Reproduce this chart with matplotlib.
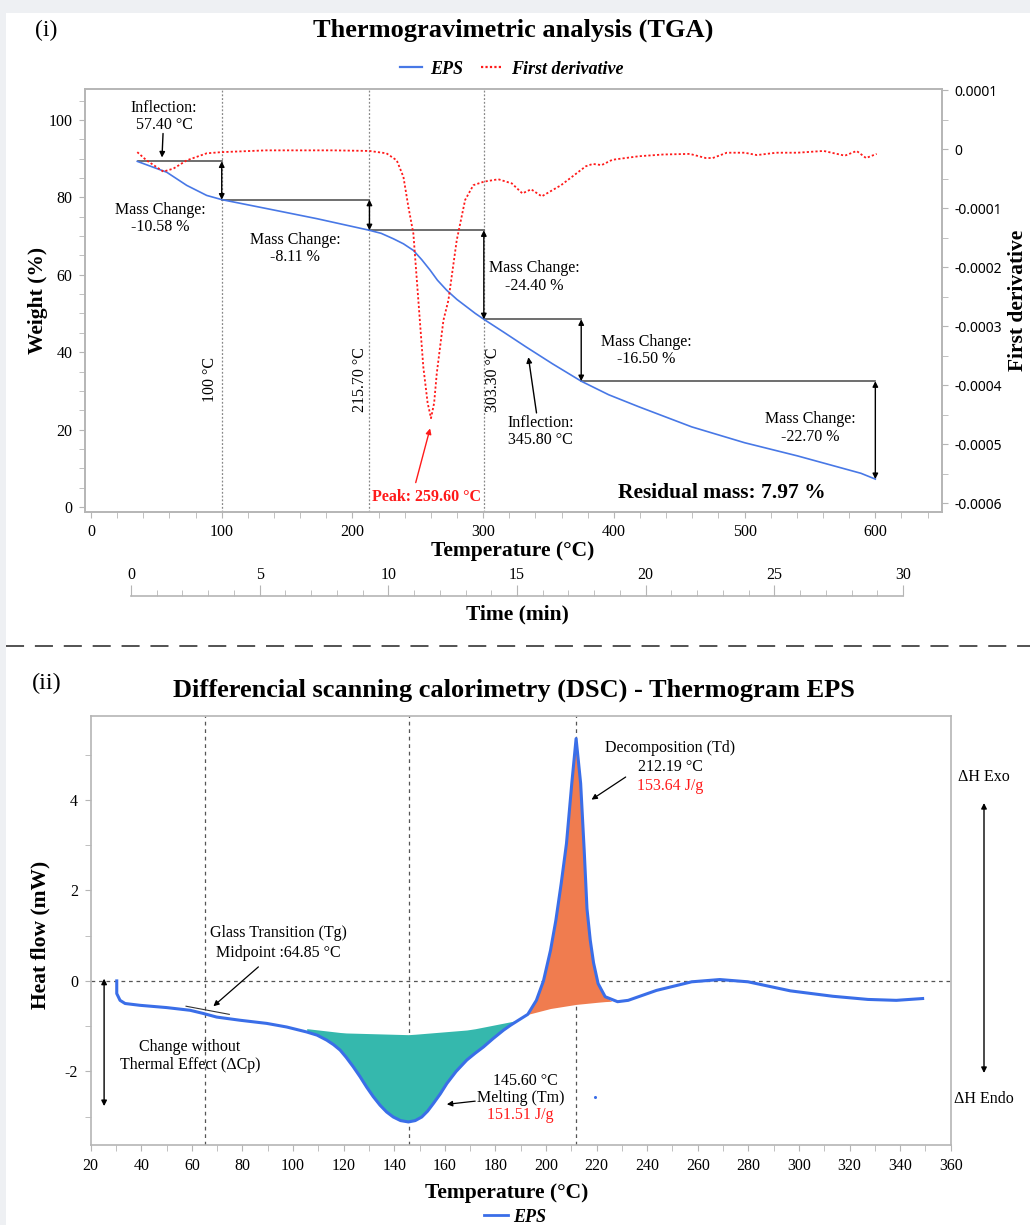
import matplotlib
matplotlib.use('Agg')
import matplotlib.pyplot as plt
import matplotlib.ticker as ticker
from matplotlib.lines import Line2D
from matplotlib.patches import Rectangle
import numpy as np

plt.rcParams['font.family'] = ['Liberation Serif', 'DejaVu Serif']
plt.rcParams['axes.unicode_minus'] = False

# ---------------- TGA data ----------------
tga_temp = [35.4, 45.1, 57.9, 73.2, 88.5, 100.2, 134.4, 172.7, 212.9, 222.0, 231.3, 239.0,
            246.6, 253.0, 259.4, 265.0, 272.1, 280.0, 287.4, 294.0, 300.5, 316.0, 332.6,
            353.0, 375.0, 396.0, 419.0, 459.5, 500.0, 540.4, 589.0, 600.0]
tga_weight = [89.3, 88.1, 86.5, 83.1, 80.5, 79.4, 77.1, 74.5, 71.5, 70.7, 69.3, 68.0,
              66.3, 63.9, 61.2, 58.6, 56.0, 53.6, 51.7, 50.0, 48.5, 45.1, 41.4,
              37.0, 32.5, 29.0, 25.9, 20.7, 16.6, 13.2, 8.7, 7.2]

deriv_temp = [35.4, 42.5, 55.3, 63.0, 73.2, 88.5, 100.0, 134.0, 185.0, 213.0, 226.0,
              233.9, 239.0, 242.8, 246.6, 250.4, 254.2, 257.5, 260.1, 262.5, 264.5, 269.6,
              273.4, 279.8, 286.2, 292.5, 300.7, 311.6, 321.9, 330.0, 336.7, 344.8, 359.6,
              378.5, 383.9, 390.6, 398.8, 419.0, 437.9, 458.1, 470.2, 475.6, 486.4, 500.0,
              509.4, 524.2, 540.3, 560.5, 576.7, 585.7, 592.9, 601.0]
deriv_val = [-0.05, -0.19, -0.38, -0.33, -0.19, -0.07, -0.05, -0.02, -0.02, -0.03, -0.07,
             -0.19, -0.47, -0.98, -1.43, -2.56, -3.69, -4.30, -4.56, -4.30, -3.80, -2.90,
             -2.56, -1.54, -0.86, -0.61, -0.55, -0.51, -0.58, -0.75, -0.68, -0.80, -0.61,
             -0.29, -0.25, -0.27, -0.18, -0.12, -0.09, -0.08, -0.15, -0.15, -0.06, -0.06,
             -0.10, -0.06, -0.06, -0.03, -0.11, -0.03, -0.15, -0.08]  # x 1e-4

step_temps = [36, 100, 213, 300.5, 375, 600]
step_weights = [89.3, 79.4, 71.5, 48.5, 32.5, 7.2]
mass_changes = ['-10.58 %', '-8.11 %', '-24.40 %', '-16.50 %', '-22.70 %']
mass_label_pos = [(52.8, 74.6), (156, 66.8), (339, 59.4), (424.6, 40.5), (550.1, 20.4)]
vline_temps = [100, 213, 300.5]
vline_labels = ['100 °C', '215.70 °C', '303.30 °C']
vline_label_x = [91, 205.8, 307.6]

# ---------------- DSC data ----------------
dsc_temp = [30.3, 30.3, 31.6, 33.6, 39.5, 50.0, 59.3, 64.5, 69.8, 79.0, 89.6, 97.5,
            105.4, 109.5, 113.3, 116.0, 118.6, 121.0, 123.8, 126.5, 129.1, 131.7, 134.4,
            137.0, 139.6, 142.5, 145.6, 148.3, 150.9, 153.2, 155.5, 158.2, 160.8, 164.5,
            168.7, 172.0, 175.3, 179.0, 183.2, 186.0, 189.1, 192.8, 196.2, 199.0, 201.8,
            203.9, 206.0, 208.1, 210.2, 211.9, 213.7, 215.1, 216.2, 217.5, 218.8, 220.6,
            223.4, 228.3, 232.5, 243.7, 257.6, 268.7, 279.9, 296.6, 313.4, 327.3, 338.5,
            348.9]
dsc_flow = [0.0, -0.28, -0.43, -0.50, -0.54, -0.59, -0.65, -0.72, -0.80, -0.87, -0.94, -1.02,
            -1.13, -1.20, -1.31, -1.41, -1.53, -1.69, -1.90, -2.12, -2.35, -2.56, -2.75,
            -2.90, -3.01, -3.09, -3.12, -3.09, -3.01, -2.88, -2.71, -2.50, -2.27, -2.00,
            -1.75, -1.60, -1.46, -1.28, -1.09, -0.98, -0.87, -0.74, -0.43, 0.0, 0.68,
            1.34, 2.15, 3.04, 4.37, 5.36, 4.37, 2.89, 1.60, 0.90, 0.40, -0.06,
            -0.35, -0.46, -0.43, -0.21, -0.02, 0.03, -0.02, -0.22, -0.34, -0.41, -0.43,
            -0.39]

melt_base_temp = [103, 120, 146, 170, 189.1]
melt_base_flow = [-1.04, -1.15, -1.19, -1.08, -0.87]
dec_base_temp = [192.8, 201.8, 211.9, 222.6, 226]
dec_base_flow = [-0.74, -0.61, -0.52, -0.46, -0.45]
dsc_vlines = [65, 146, 212]

W, H = 1030, 1225
def fx(px):
    return px / W
def fy(py):
    return 1 - py / H

blue = '#4878e6'
spine_col = '#b5b5b5'

fig = plt.figure(figsize=(W / 100, H / 100), dpi=100, facecolor='#eef0f3')
fig.patches.append(Rectangle((fx(6), 0), 1, fy(13), transform=fig.transFigure,
                             facecolor='white', edgecolor='none', zorder=-10))

def style_box(ax):
    for s in ax.spines.values():
        s.set_color(spine_col)
        s.set_linewidth(1.2)

# ================= TGA =================
ax = fig.add_axes([fx(85), fy(512), fx(942) - fx(85), fy(89) - fy(512)])
style_box(ax)
ax.plot(tga_temp, tga_weight, color=blue, lw=1.2, zorder=4)
ax.set_xlim(-4.6, 651)
ax.set_ylim(-1.3, 108)
ax.xaxis.set_major_locator(ticker.MultipleLocator(100))
ax.xaxis.set_minor_locator(ticker.MultipleLocator(20))
ax.yaxis.set_major_locator(ticker.MultipleLocator(20))
ax.yaxis.set_minor_locator(ticker.MultipleLocator(5))
ax.tick_params(which='both', direction='out', length=4, color=spine_col, labelsize=11.5, pad=5)

for t in vline_temps:
    ax.axvline(t, color='#888888', lw=0.9, ls=(0, (1.5, 1.5)), zorder=1)
for xl, lab in zip(vline_label_x, vline_labels):
    ax.text(xl, 33, lab, rotation=90, ha='center', va='center', fontsize=11.5)

for i in range(len(step_temps) - 1):
    ax.plot([step_temps[i], step_temps[i + 1]], [step_weights[i], step_weights[i]],
            color='#555555', lw=1.2, zorder=3)
    ax.annotate('', xy=(step_temps[i + 1], step_weights[i + 1]),
                xytext=(step_temps[i + 1], step_weights[i]),
                arrowprops=dict(arrowstyle='<|-|>', color='black', lw=1,
                                mutation_scale=8, shrinkA=0, shrinkB=0), zorder=5)
for (tx, ty), lab in zip(mass_label_pos, mass_changes):
    ax.text(tx, ty, 'Mass Change:\n' + lab, ha='center', va='center', fontsize=11.5,
            linespacing=1.1)

ax.text(55.9, 100.9, 'Inflection:\n57.40 °C', ha='center', va='center', fontsize=11.5,
        linespacing=1.1)
ax.annotate('', xy=(54.3, 90.3), xytext=(55.1, 96.5),
            arrowprops=dict(arrowstyle='-|>', color='black', lw=1, mutation_scale=8,
                            shrinkA=0, shrinkB=0))
ax.text(344, 19.6, 'Inflection:\n345.80 °C', ha='center', va='center', fontsize=11.5,
        linespacing=1.1)
ax.annotate('', xy=(334.6, 38.7), xytext=(340.8, 24.3),
            arrowprops=dict(arrowstyle='-|>', color='black', lw=1, mutation_scale=8,
                            shrinkA=0, shrinkB=0))
ax.text(256.8, 2.7, 'Peak: 259.60 °C', ha='center', va='center', fontsize=11.5,
        color='#ff1a1a', fontweight='bold')
ax.annotate('', xy=(259.4, 20.3), xytext=(248.4, 6.3),
            arrowprops=dict(arrowstyle='-|>', color='#ff1a1a', lw=1, mutation_scale=8,
                            shrinkA=0, shrinkB=0))
ax.text(482.4, 3.6, 'Residual mass: 7.97 %', ha='center', va='center', fontsize=15.5,
        fontweight='bold')

ax2 = ax.twinx()
style_box(ax2)
ax2.plot(deriv_temp, np.array(deriv_val) * 1e-4, color='#ff1a1a', lw=1.3, ls=(0, (1.2, 1.2)),
         zorder=2)
ax2.set_ylim(-0.000615, 0.000102)
ax2.yaxis.set_major_locator(ticker.MultipleLocator(0.0001))
ax2.yaxis.set_minor_locator(ticker.MultipleLocator(0.00005))
ax2.yaxis.set_major_formatter(ticker.FuncFormatter(
    lambda v, p: '0' if abs(v) < 1e-9 else ('%.4f' % v)))
ax2.tick_params(which='both', direction='out', length=4, color=spine_col, labelsize=10, pad=5)
for lab in ax2.get_yticklabels():
    lab.set_fontfamily('Noto Sans')

handles = [Line2D([], [], color=blue, lw=1.6),
           Line2D([], [], color='#ff1a1a', lw=1.6, ls=(0, (1, 1)))]
fig.legend(handles, ['EPS', 'First derivative'], loc='center', ncol=2, frameon=False,
           bbox_to_anchor=(fx(512), fy(69)), handlelength=1.2, handletextpad=0.45,
           columnspacing=1.0, prop=dict(size=13, style='italic', weight='bold'))

fig.text(fx(513), fy(30), 'Thermogravimetric analysis (TGA)', ha='center', va='center',
         fontsize=19, fontweight='bold')
fig.text(fx(46), fy(30), '(i)', ha='center', va='center', fontsize=17)
fig.text(fx(513), fy(551), 'Temperature (°C)', ha='center', va='center', fontsize=15.5,
         fontweight='bold')
fig.text(fx(38), fy(300), 'Weight (%)', ha='center', va='center', rotation=90,
         fontsize=15.5, fontweight='bold')
fig.text(fx(1018), fy(300), 'First derivative', ha='center', va='center', rotation=90,
         fontsize=15.5, fontweight='bold')

# time axis
tax = fig.add_axes([fx(131), fy(596), fx(903) - fx(131), 0.0001])
tax.set_xlim(0, 30)
tax.set_yticks([])
for s in ['bottom', 'left', 'right']:
    tax.spines[s].set_visible(False)
tax.spines['top'].set_color(spine_col)
tax.spines['top'].set_linewidth(1.2)
tax.xaxis.tick_top()
tax.xaxis.set_major_locator(ticker.MultipleLocator(5))
tax.xaxis.set_minor_locator(ticker.MultipleLocator(1))
tax.tick_params(which='major', direction='out', length=8, color=spine_col, labelsize=11.5, pad=1.5)
tax.tick_params(which='minor', direction='out', length=4, color=spine_col)
fig.text(fx(517), fy(614), 'Time (min)', ha='center', va='center', fontsize=15.5,
         fontweight='bold')

fig.add_artist(Line2D([fx(6), 1], [fy(646), fy(646)], transform=fig.transFigure,
                      color='#444444', lw=1.3, ls=(0, (10, 6))))

# ================= DSC =================
bx = fig.add_axes([fx(90.7), fy(1145), fx(950.7) - fx(90.7), fy(716) - fy(1145)])
style_box(bx)
bx.set_xlim(20, 360)
bx.set_ylim(-3.63, 5.86)
bx.xaxis.set_major_locator(ticker.MultipleLocator(20))
bx.xaxis.set_minor_locator(ticker.MultipleLocator(10))
bx.yaxis.set_major_locator(ticker.MultipleLocator(2))
bx.yaxis.set_minor_locator(ticker.MultipleLocator(1))
bx.tick_params(which='both', direction='out', length=4, color=spine_col, labelsize=11.5, pad=5)

bx.axhline(0, color='#555555', lw=0.9, ls=(0, (3, 3)), zorder=1)
for t in dsc_vlines:
    bx.axvline(t, color='#555555', lw=0.9, ls=(0, (3, 3)), zorder=1)

dt = np.array(dsc_temp)
df = np.array(dsc_flow)
m = (dt >= melt_base_temp[0]) & (dt <= melt_base_temp[-1])
bx.fill_between(dt[m], df[m], np.interp(dt[m], melt_base_temp, melt_base_flow),
                color='#35b8ad', lw=0, zorder=2)
m = (dt >= dec_base_temp[0]) & (dt <= dec_base_temp[-1])
xs = np.concatenate([dt[m], [dec_base_temp[-1]]])
ys = np.concatenate([df[m], [dec_base_flow[-1]]])
bx.fill_between(xs, ys, np.interp(xs, dec_base_temp, dec_base_flow),
                color='#f07c4f', lw=0, zorder=2)
bx.plot(dsc_temp, dsc_flow, color='#3a6ee8', lw=2.2, zorder=4)
bx.plot([219.5], [-2.57], 'o', color='#3a6ee8', ms=1.2)

bx.plot([57.7, 74.8], [-0.56, -0.74], color='#333333', lw=0.8, zorder=5)
bx.annotate('', xy=(68.5, -0.56), xytext=(86.3, 0.31),
            arrowprops=dict(arrowstyle='-|>', color='black', lw=0.9, mutation_scale=8,
                            shrinkA=0, shrinkB=0))
bx.text(94.2, 0.84, 'Glass Transition (Tg)\nMidpoint :64.85 °C', ha='center', va='center',
        fontsize=11.5, linespacing=1.3)
bx.annotate('', xy=(25.3, 0.05), xytext=(25.3, -2.77),
            arrowprops=dict(arrowstyle='<|-|>', color='black', lw=1, mutation_scale=8,
                            shrinkA=0, shrinkB=0))
bx.text(59.3, -1.67, 'Change without\nThermal Effect (ΔCp)', ha='center', va='center',
        fontsize=11.5, linespacing=1.15)

bx.text(192.0, -2.22, '145.60 °C', ha='center', va='center', fontsize=11.5)
bx.text(190.0, -2.60, 'Melting (Tm)', ha='center', va='center', fontsize=11.5)
bx.text(190.0, -2.97, '151.51 J/g', ha='center', va='center', fontsize=11.5, color='#ff1a1a')
bx.annotate('', xy=(160.8, -2.73), xytext=(172, -2.66),
            arrowprops=dict(arrowstyle='-|>', color='black', lw=0.9, mutation_scale=8,
                            shrinkA=0, shrinkB=0))

bx.text(249.1, 5.15, 'Decomposition (Td)', ha='center', va='center', fontsize=11.5)
bx.text(249.1, 4.73, '212.19 °C', ha='center', va='center', fontsize=11.5)
bx.text(249.1, 4.31, '153.64 J/g', ha='center', va='center', fontsize=11.5, color='#ff1a1a')
bx.annotate('', xy=(218, 4.01), xytext=(231.5, 4.51),
            arrowprops=dict(arrowstyle='-|>', color='black', lw=0.9, mutation_scale=8,
                            shrinkA=0, shrinkB=0))

fig.text(fx(984), fy(777), 'ΔH Exo', ha='center', va='center', fontsize=11.5)
fig.text(fx(984), fy(1099), 'ΔH Endo', ha='center', va='center', fontsize=11.5)
bx.annotate('', xy=(fx(984), fy(803)), xytext=(fx(984), fy(1073)),
            xycoords='figure fraction', textcoords='figure fraction',
            arrowprops=dict(arrowstyle='<|-|>', color='black', lw=1, mutation_scale=8,
                            shrinkA=0, shrinkB=0), annotation_clip=False)

fig.text(fx(514), fy(690), 'Differencial scanning calorimetry (DSC) - Thermogram EPS',
         ha='center', va='center', fontsize=19, fontweight='bold')
fig.text(fx(47), fy(683), '(ii)', ha='center', va='center', fontsize=17.5)
fig.text(fx(507), fy(1193), 'Temperature (°C)', ha='center', va='center', fontsize=15.5,
         fontweight='bold')
fig.text(fx(40), fy(935), 'Heat flow (mW)', ha='center', va='center', rotation=90,
         fontsize=15.5, fontweight='bold')
fig.legend([Line2D([], [], color='#3a6ee8', lw=2)], ['EPS'], loc='center', frameon=False,
           bbox_to_anchor=(fx(515), fy(1217)), handlelength=1.3, handletextpad=0.3,
           prop=dict(size=13, style='italic', weight='bold'))

fig.savefig('out.png', dpi=100, facecolor=fig.get_facecolor())
